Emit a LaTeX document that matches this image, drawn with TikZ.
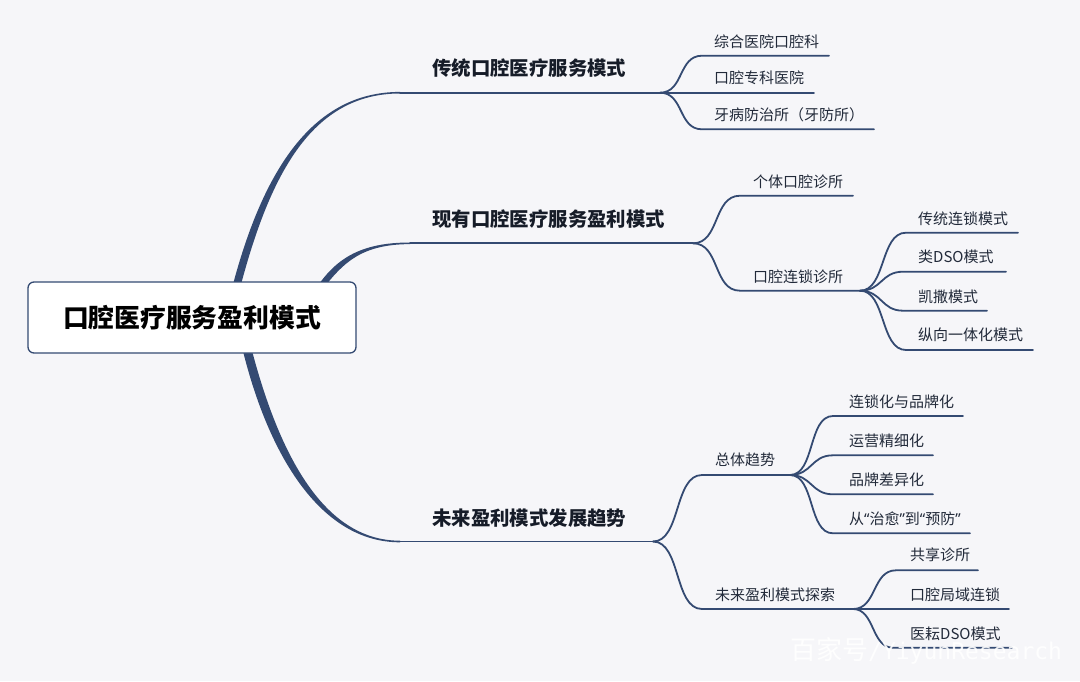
\documentclass[tikz,border=0pt]{standalone}
\usepackage{fontspec}
\setmainfont{Noto Sans CJK SC}
\newfontfamily\latinf{Noto Sans}
\newfontfamily\monof{DejaVu Sans Mono}
\usetikzlibrary{calc}
\definecolor{bgc}{HTML}{F6F6F9}
\definecolor{navy}{HTML}{344A72}
\definecolor{txt}{HTML}{222A3A}
\definecolor{mtxt}{HTML}{161C28}
\newcommand{\myqo}{{\latinf “}}
\newcommand{\myqc}{{\latinf ”}}
\begin{document}
\begin{tikzpicture}[x=1pt,y=-1pt,
  conn/.style={draw=navy,line width=1.8pt,line cap=round},
  trunk/.style={fill=navy},
  leaf/.style={anchor=west,inner sep=0pt,font=\fontsize{15}{17}\selectfont,text=txt},
  mainlbl/.style={anchor=west,inner sep=0pt,font=\fontsize{19.4}{22}\selectfont\bfseries,text=mtxt},
  rootbox/.style={draw=navy,line width=1.3pt,fill=white,rounded corners=6pt,minimum width=328pt,minimum height=71pt,inner sep=0pt,font=\fontsize{25.8}{28}\selectfont\bfseries,text=black},
  wmark/.style={anchor=west,inner sep=0pt,text=white,opacity=0.9}]

\fill[bgc] (0,0) rectangle (1080,681);
\useasboundingbox (0,0) rectangle (1080,681);

% branch points
\coordinate (eA) at (400,92.7);
\coordinate (eB) at (410,243.3);
\coordinate (eC) at (400,541.5);
\coordinate (P1) at (660,92.7);
\coordinate (P2) at (693,243.3);
\coordinate (P3) at (860,290.7);
\coordinate (P4) at (653,541.5);
\coordinate (P5) at (790,475);
\coordinate (P6) at (853,609);

% tapered trunks
\fill[trunk] (231,292) .. controls (261,175) and (310,91.9) .. (400,91.9)
  -- (400,93.5) .. controls (311,93.5) and (269,176) .. (239,292) -- cycle;
\fill[trunk] (315,290) .. controls (335,259) and (360,242.5) .. (410,242.5)
  -- (410,244.1) .. controls (361,244.3) and (343,263) .. (322,290) -- cycle;
\fill[trunk] (241.5,345) .. controls (267,452) and (319,542.3) .. (400,542.3)
  -- (400,540.7) .. controls (321,540.7) and (277,448) .. (250.5,345) -- cycle;

\draw[conn] (eA) -- (P1);
\draw[conn] (eB) -- (P2);
\draw[conn] (eC) -- (P4);

% root
\node[rootbox] (root) at (192,317.5) {口腔医疗服务盈利模式};

% main labels
\node[mainlbl] (mA) at (432,68) {传统口腔医疗服务模式};
\node[mainlbl] (mB) at (432,219) {现有口腔医疗服务盈利模式};
\node[mainlbl] (mC) at (432,518) {未来盈利模式发展趋势};

% branch A
\coordinate (a1s) at (702,55.7);  \coordinate (a1e) at (829,55.7);
\coordinate (a2e) at (814,92.7);
\coordinate (a3s) at (702,129.3); \coordinate (a3e) at (874,129.3);
\draw[conn] (P1) .. controls +(24,0) and +(-24,0) .. (a1s) -- (a1e);
\draw[conn] (P1) -- (a2e);
\draw[conn] (P1) .. controls +(24,0) and +(-24,0) .. (a3s) -- (a3e);
\node[leaf] (ta1) at (714,41.7) {综合医院口腔科};
\node[leaf] (ta2) at (714,78) {口腔专科医院};
\node[leaf] (ta3) at (714,115) {牙病防治所（牙防所）};

% branch B
\coordinate (b1s) at (740,195.7); \coordinate (b1e) at (853,195.7);
\coordinate (b2s) at (740,290.7);
\draw[conn] (P2) .. controls +(27,0) and +(-27,0) .. (b1s) -- (b1e);
\draw[conn] (P2) .. controls +(27,0) and +(-27,0) .. (b2s) -- (P3);
\node[leaf] (tb1) at (753,181.7) {个体口腔诊所};
\node[leaf] (tb2) at (753,276.7) {口腔连锁诊所};

\coordinate (c1s) at (906,232.7); \coordinate (c1e) at (1018,232.7);
\coordinate (c2s) at (903,271.7); \coordinate (c2e) at (1006,271.7);
\coordinate (c3s) at (903,310.7); \coordinate (c3e) at (987,310.7);
\coordinate (c4s) at (906,350); \coordinate (c4e) at (1033,350);
\draw[conn] (P3) .. controls +(26,0) and +(-26,0) .. (c1s) -- (c1e);
\draw[conn] (P3) .. controls +(22,0) and +(-22,0) .. (c2s) -- (c2e);
\draw[conn] (P3) .. controls +(22,0) and +(-22,0) .. (c3s) -- (c3e);
\draw[conn] (P3) .. controls +(26,0) and +(-26,0) .. (c4s) -- (c4e);
\node[leaf] (tc1) at (918,218.3) {传统连锁模式};
\node[leaf] (tc2) at (918,257.3) {类DSO模式};
\node[leaf] (tc3) at (918,296.7) {凯撒模式};
\node[leaf] (tc4) at (918,335) {纵向一体化模式};

% branch C
\coordinate (d1s) at (702,475);
\coordinate (d2s) at (702,609);
\draw[conn] (P4) .. controls +(28,0) and +(-28,0) .. (d1s) -- (P5);
\draw[conn] (P4) .. controls +(28,0) and +(-28,0) .. (d2s) -- (P6);
\node[leaf] (td1) at (715,460) {总体趋势};
\node[leaf] (td2) at (715,594.5) {未来盈利模式探索};

\coordinate (e1s) at (833,416); \coordinate (e1e) at (963,416);
\coordinate (e2s) at (833,455.3); \coordinate (e2e) at (933,455.3);
\coordinate (e3s) at (833,494.3); \coordinate (e3e) at (933,494.3);
\coordinate (e4s) at (833,533.3); \coordinate (e4e) at (970,533.3);
\draw[conn] (P5) .. controls +(25,0) and +(-25,0) .. (e1s) -- (e1e);
\draw[conn] (P5) .. controls +(22,0) and +(-22,0) .. (e2s) -- (e2e);
\draw[conn] (P5) .. controls +(22,0) and +(-22,0) .. (e3s) -- (e3e);
\draw[conn] (P5) .. controls +(25,0) and +(-25,0) .. (e4s) -- (e4e);
\node[leaf] (te1) at (849,401.7) {连锁化与品牌化};
\node[leaf] (te2) at (849,440.7) {运营精细化};
\node[leaf] (te3) at (849,479.3) {品牌差异化};
\node[leaf] (te4) at (849,518.3) {从\myqo 治愈\myqc 到\myqo 预防\myqc};

\coordinate (f1s) at (896,570.3); \coordinate (f1e) at (978,570.3);
\coordinate (f2e) at (1009,609);
\coordinate (f3s) at (893,647.7); \coordinate (f3e) at (1012,647.7);
\draw[conn] (P6) .. controls +(24,0) and +(-24,0) .. (f1s) -- (f1e);
\draw[conn] (P6) -- (f2e);
\draw[conn] (P6) .. controls +(22,0) and +(-22,0) .. (f3s) -- (f3e);
\node[leaf] (tf1) at (910,555) {共享诊所};
\node[leaf] (tf2) at (910,595) {口腔局域连锁};
\node[leaf] (tf3) at (910,634) {医耘DSO模式};

% watermark
\node[wmark] (wm) at (790,651) {\fontsize{26}{28}\selectfont 百家号{\monof\fontsize{23}{26}\selectfont /YiyunResearch}};
\end{tikzpicture}
\end{document}
